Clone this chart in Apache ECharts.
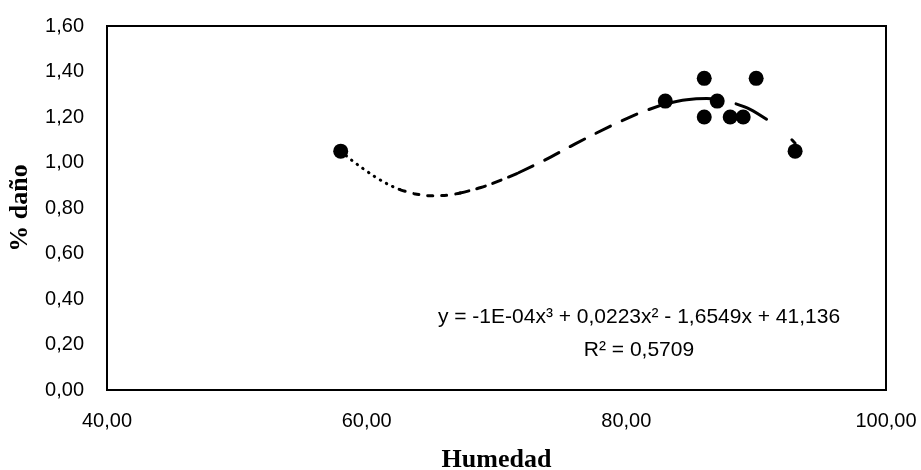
<!DOCTYPE html>
<html>
<head>
<meta charset="utf-8">
<script src="https://cdn.jsdelivr.net/npm/echarts@6/dist/echarts.min.js"></script>
<style>
html,body{margin:0;padding:0;background:#fff;}
#chart{width:921px;height:470px;}
</style>
</head>
<body>
<div id="chart"></div>
<script>
// ---- data ----
const humedad = [58, 83, 86, 86, 87, 88, 89, 90, 93];
const dano    = [1.05, 1.27, 1.37, 1.20, 1.27, 1.20, 1.20, 1.37, 1.05];

// polynomial trendline as drawn in the reference
const trendX = [58, 58.85, 59.9, 60.9, 61.9, 62.6, 63.65, 64.9, 66.0, 67.2, 68.8, 70.5, 71.7,
                73.7, 76.1, 78.7, 80.5, 81.2, 83, 84.65, 86.2, 87, 88.45, 89.5, 90.8, 92.75, 93];
const trendY = [1.05, 1.01, 0.966, 0.928, 0.897, 0.880, 0.863, 0.854, 0.855, 0.866, 0.890, 0.926, 0.955,
                1.010, 1.083, 1.158, 1.205, 1.222, 1.258, 1.276, 1.281, 1.276, 1.258, 1.235, 1.19, 1.10, 1.085];

const xAxisRange = [40, 100, 20];
const yAxisRange = [0, 1.6, 0.2];
const equationText = 'y = -1E-04x³ + 0,0223x² - 1,6549x + 41,136';
const r2Text = 'R² = 0,5709';
const xTitle = 'Humedad';
const yTitle = '% daño';

// dash style pieces along the trendline (index ranges into trendX/trendY)
const dashPieces = [
  { from: 0,  to: 5,  type: [0.5, 6.5] },
  { from: 5,  to: 9,  type: [5, 9] },
  { from: 9,  to: 12, type: [9, 8] },
  { from: 12, to: 18, type: [16, 13] },
  { from: 18, to: 21, type: 'solid' },
  { from: 22, to: 24, type: 'solid' },
  { from: 25, to: 26, type: 'solid' }
];

const trendSeries = dashPieces.map(p => {
  const pts = [];
  for (let i = p.from; i <= p.to; i++) pts.push([trendX[i], trendY[i]]);
  return {
    type: 'line',
    data: pts,
    showSymbol: false,
    symbol: 'none',
    smooth: 0.35,
    silent: true,
    lineStyle: { color: '#000', width: 3, type: p.type, cap: 'round' },
    z: 2
  };
});

const fmt = v => v.toFixed(2).replace('.', ',');

const chart = echarts.init(document.getElementById('chart'), null, { renderer: 'canvas' });
chart.setOption({
  animation: false,
  backgroundColor: '#fff',
  grid: {
    left: 107, right: 35, top: 26, bottom: 80,
    containLabel: false,
    outerBoundsMode: 'none',
    show: true, borderColor: '#000', borderWidth: 2, backgroundColor: 'transparent'
  },
  xAxis: {
    type: 'value',
    min: xAxisRange[0], max: xAxisRange[1], interval: xAxisRange[2],
    splitLine: { show: false },
    axisTick: { show: false },
    axisLine: { show: false },
    axisLabel: {
      formatter: fmt, color: '#000', fontSize: 20,
      fontFamily: 'Liberation Sans', margin: 21
    },
    name: xTitle,
    nameLocation: 'middle',
    nameGap: 57,
    nameTextStyle: {
      fontFamily: 'Liberation Serif', fontWeight: 'bold', fontSize: 26, color: '#000'
    }
  },
  yAxis: {
    type: 'value',
    min: yAxisRange[0], max: yAxisRange[1], interval: yAxisRange[2],
    splitLine: { show: false },
    axisTick: { show: false },
    axisLine: { show: false },
    axisLabel: {
      formatter: fmt, color: '#000', fontSize: 20,
      fontFamily: 'Liberation Sans', margin: 23
    },
    name: yTitle,
    nameLocation: 'middle',
    nameGap: 74,
    nameTextStyle: {
      fontFamily: 'Liberation Serif', fontWeight: 'bold', fontSize: 26, color: '#000'
    }
  },
  graphic: [
    {
      type: 'text', x: 639, y: 317,
      style: {
        text: equationText, textAlign: 'center', textVerticalAlign: 'middle',
        font: '21px "Liberation Sans"', fill: '#000'
      }
    },
    {
      type: 'text', x: 639, y: 350,
      style: {
        text: r2Text, textAlign: 'center', textVerticalAlign: 'middle',
        font: '21px "Liberation Sans"', fill: '#000'
      }
    }
  ],
  series: trendSeries.concat([{
    type: 'scatter',
    data: humedad.map((x, i) => [x, dano[i]]),
    symbol: 'circle',
    symbolSize: 15,
    itemStyle: { color: '#000', opacity: 1 },
    z: 3
  }])
});
</script>
</body>
</html>
